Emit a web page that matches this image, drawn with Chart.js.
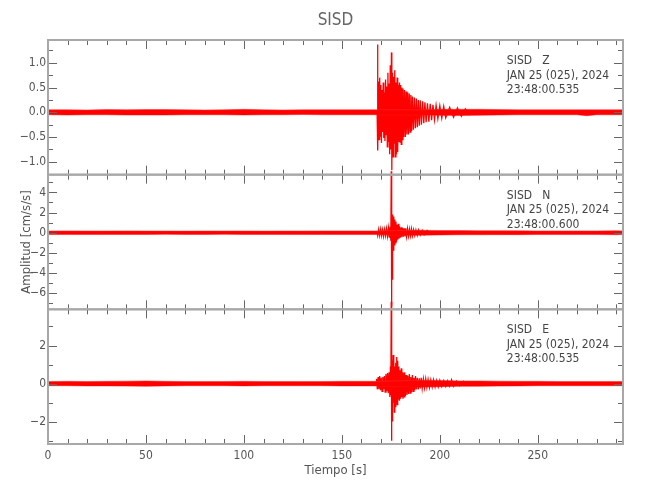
<!DOCTYPE html>
<html>
<head>
<meta charset="utf-8">
<title>SISD</title>
<script src="https://cdn.jsdelivr.net/npm/chart.js@4.4.1/dist/chart.umd.min.js"></script>
<style>
  html, body { margin: 0; padding: 0; background: #fff; }
</style>
</head>
<body>
<canvas id="chart" width="650" height="500"></canvas>
<script>
// Station SISD, three components (Z, N, E)
const station = 'SISD';
const components = ['Z', 'N', 'E'];
const dateLabel = 'JAN 25 (025), 2024';
const startTimes = ['23:48:00.535', '23:48:00.600', '23:48:00.535'];
const timeTicks = [0, 50, 100, 150, 200, 250];
const timeMax = 293.5;

// background noise envelope (upper / lower edge of the trace), seconds
const noiseT = [0, 10, 20, 30, 40, 50, 60, 70, 80, 90, 100, 110, 120, 130, 140, 150,
  160, 170, 180, 190, 200, 210, 220, 230, 240, 250, 260, 270, 275, 280, 290, 293.5];
const zNoiseHi = [0.05, 0.05, 0.045, 0.055, 0.05, 0.055, 0.055, 0.05, 0.045, 0.05, 0.06, 0.05, 0.045, 0.05, 0.05, 0.05,
  0.05, 0.05, 0.05, 0.05, 0.06, 0.06, 0.06, 0.055, 0.05, 0.05, 0.05, 0.05, 0.05, 0.05, 0.05, 0.05];
const zNoiseLo = [-0.05, -0.055, -0.05, -0.05, -0.055, -0.055, -0.055, -0.05, -0.05, -0.05, -0.055, -0.05, -0.05, -0.045, -0.05, -0.05,
  -0.05, -0.05, -0.05, -0.05, -0.06, -0.065, -0.06, -0.055, -0.05, -0.05, -0.05, -0.05, -0.07, -0.05, -0.05, -0.05];
const nNoiseHi = [0.17, 0.18, 0.17, 0.17, 0.18, 0.17, 0.17, 0.16, 0.17, 0.17, 0.17, 0.16, 0.17, 0.17, 0.18, 0.18,
  0.18, 0.18, 0.22, 0.24, 0.22, 0.22, 0.2, 0.2, 0.19, 0.18, 0.18, 0.18, 0.18, 0.18, 0.2, 0.18];
const nNoiseLo = [-0.17, -0.17, -0.18, -0.17, -0.17, -0.17, -0.16, -0.17, -0.17, -0.16, -0.17, -0.17, -0.17, -0.18, -0.17, -0.18,
  -0.18, -0.18, -0.22, -0.24, -0.22, -0.2, -0.2, -0.19, -0.19, -0.18, -0.18, -0.18, -0.18, -0.18, -0.2, -0.18];
const eNoiseHi = [0.11, 0.12, 0.11, 0.12, 0.13, 0.14, 0.12, 0.11, 0.11, 0.11, 0.12, 0.11, 0.11, 0.11, 0.11, 0.12,
  0.12, 0.12, 0.15, 0.18, 0.16, 0.14, 0.14, 0.13, 0.12, 0.12, 0.11, 0.11, 0.11, 0.11, 0.11, 0.11];
const eNoiseLo = [-0.11, -0.11, -0.12, -0.12, -0.13, -0.14, -0.12, -0.11, -0.11, -0.11, -0.12, -0.11, -0.11, -0.11, -0.11, -0.12,
  -0.12, -0.12, -0.15, -0.18, -0.16, -0.14, -0.14, -0.13, -0.12, -0.11, -0.11, -0.11, -0.11, -0.11, -0.11, -0.11];

// event wiggles (alternating peaks), Z component
const zEventT = [
  167.8, 168.0, 168.2, 168.4, 168.7, 169.0, 169.3, 169.6, 169.9, 170.2,
  170.5, 170.8, 171.1, 171.4, 171.7, 172.0, 172.3, 172.6, 172.9, 173.2,
  173.5, 173.8, 174.1, 174.4, 174.7, 175.0, 175.3, 175.5, 175.8, 176.1,
  176.4, 176.7, 177.0, 177.3, 177.6, 177.9, 178.2, 178.5, 178.8, 179.1,
  179.4, 179.7, 180.0, 180.3, 180.6, 180.9, 181.2, 181.6, 182.0, 182.4,
  182.8, 183.2, 183.6, 184.0, 184.4, 184.8, 185.2, 185.6, 186.0, 186.5,
  187.0, 187.5, 188.0, 188.5, 189.0, 189.5, 190.0, 190.6, 191.2, 191.8,
  192.4, 193.0, 193.7, 194.4, 195.1, 195.8, 196.5, 197.3, 198.1, 199.0,
  200.0, 201.0, 202.0, 203.0, 205.0, 207.0, 209.0, 211.0, 213.0, 215.0];
const zEventV = [
  0.04, -0.05, 1.37, -0.77, 0.62, -0.55, 0.70, -0.48, 0.55, -0.62,
  0.45, -0.40, 0.60, -0.52, 0.40, -0.58, 0.66, -0.45, 0.52, -0.70,
  0.80, -0.60, 0.58, -0.85, 0.95, -0.75, 1.21, -1.17, 0.80, -0.90,
  0.72, -0.62, 0.85, -0.90, 0.60, -0.85, 0.70, -0.80, 0.55, -0.60,
  0.60, -0.60, 0.55, -0.65, 0.50, -0.55, 0.48, -0.50, 0.45, -0.50,
  0.42, -0.45, 0.40, -0.45, 0.38, -0.40, 0.35, -0.38, 0.32, -0.35,
  0.30, -0.32, 0.28, -0.30, 0.25, -0.27, 0.24, -0.25, 0.22, -0.22,
  0.20, -0.20, 0.18, -0.19, 0.17, -0.16, 0.15, -0.15, 0.14, -0.13,
  0.13, -0.12, 0.12, -0.11, 0.10, -0.10, 0.09, -0.08, 0.07, -0.06];

// N component
const nEventT = [
  167.8, 168.3, 168.8, 169.3, 169.8, 170.3, 170.8, 171.3, 171.8, 172.3,
  172.8, 173.3, 173.8, 174.2, 174.6, 175.0, 175.2, 175.35, 175.5, 175.65,
  175.8, 176.0, 176.2, 176.4, 176.6, 176.8, 177.0, 177.3, 177.6, 177.9,
  178.2, 178.5, 178.8, 179.1, 179.4, 179.8, 180.2, 180.6, 181.0, 181.4,
  181.8, 182.2, 182.6, 183.0, 183.5, 184.0, 184.5, 185.0, 185.5, 186.0,
  186.6, 187.2, 187.8, 188.5, 189.2, 190.0, 191.0, 192.0, 193.5, 195.0];
const nEventV = [
  0.15, -0.30, 0.32, -0.28, 0.35, -0.30, 0.30, -0.35, 0.33, -0.30,
  0.40, -0.35, 0.45, -0.50, 0.60, -0.80, 6.10, -7.30, 2.50, -4.60,
  1.80, -2.20, 1.60, -1.80, 1.40, -1.20, 1.30, -1.00, 1.10, -0.90,
  0.80, -0.70, 0.90, -0.60, 0.65, -0.50, 0.55, -0.45, 0.50, -0.40,
  0.45, -0.38, 0.45, -0.35, 0.40, -0.32, 0.35, -0.30, 0.38, -0.30,
  0.30, -0.28, 0.28, -0.26, 0.27, -0.24, 0.24, -0.22, 0.22, -0.20];

// E component
const eEventT = [
  167.7, 168.1, 168.5, 168.9, 169.3, 169.7, 170.1, 170.5, 170.9, 171.3,
  171.7, 172.1, 172.5, 172.9, 173.3, 173.7, 174.1, 174.5, 174.8, 175.0,
  175.2, 175.35, 175.5, 175.65, 175.8, 176.0, 176.2, 176.4, 176.6, 176.8,
  177.0, 177.2, 177.5, 177.8, 178.0, 178.2, 178.5, 178.8, 179.1, 179.4,
  179.7, 180.0, 180.3, 180.6, 180.9, 181.2, 181.5, 181.8, 182.1, 182.4,
  182.8, 183.2, 183.6, 184.0, 184.4, 184.8, 185.2, 185.6, 186.0, 186.4,
  186.8, 187.2, 187.6, 188.0, 188.5, 189.0, 189.5, 190.0, 190.5, 191.0,
  191.6, 192.2, 192.8, 193.4, 194.0, 194.7, 195.4, 196.1, 196.8, 197.6,
  198.4, 199.2, 200.0, 201.0, 202.0, 203.0, 204.0, 205.0, 206.0, 207.0,
  208.5, 210.0, 212.0, 214.0];
const eEventV = [
  0.25, -0.30, 0.35, -0.30, 0.40, -0.35, 0.30, -0.40, 0.35, -0.30,
  0.40, -0.45, 0.50, -0.40, 0.55, -0.50, 0.60, -0.70, 0.90, -0.60,
  4.30, -3.00, 1.70, -1.95, 1.20, -1.30, 1.50, -1.00, 1.10, -1.50,
  0.90, -1.20, 1.10, -0.90, 1.40, -1.10, 1.20, -0.80, 0.90, -0.90,
  0.70, -0.80, 0.80, -0.70, 0.60, -0.80, 0.55, -0.70, 0.60, -0.65,
  0.45, -0.60, 0.40, -0.55, 0.50, -0.50, 0.35, -0.45, 0.45, -0.40,
  0.30, -0.35, 0.40, -0.30, 0.30, -0.30, 0.28, -0.25, 0.30, -0.25,
  0.25, -0.22, 0.25, -0.20, 0.22, -0.20, 0.20, -0.18, 0.20, -0.18,
  0.17, -0.17, 0.18, -0.16, 0.16, -0.15, 0.15, -0.14, 0.20, -0.14,
  0.13, -0.12, 0.12, -0.11];

const FONT = "'DejaVu Sans Condensed', 'DejaVu Sans', sans-serif";
const TEXT = '#555';

function pts(t, v) {
  return t.map((x, i) => ({ x: x, y: v[i] }));
}

function fmt(v, digits) {
  return (v < 0 ? '\u2212' : '') + Math.abs(v).toFixed(digits);
}

function band(hi, lo, axis) {
  const common = { yAxisID: axis, pointRadius: 0, borderWidth: 1, borderColor: 'rgba(255,40,40,0.55)', tension: 0 };
  return [
    Object.assign({ data: pts(noiseT, hi), fill: '+1', backgroundColor: '#ff0000' }, common),
    Object.assign({ data: pts(noiseT, lo), fill: false }, common)
  ];
}

function wiggle(t, v, axis) {
  return { data: pts(t, v), yAxisID: axis, pointRadius: 0, borderWidth: 1.3, borderColor: '#ff0000',
    fill: false, tension: 0, clip: 10 };
}

function yAxis(min, max, step, digits, extra) {
  return Object.assign({
    type: 'linear', position: 'left', stack: 'panels', stackWeight: 1,
    min: min, max: max,
    grid: { display: false, drawTicks: false },
    border: { display: false },
    ticks: { stepSize: step, includeBounds: false, autoSkip: false, padding: 2, color: TEXT,
      font: { family: FONT, size: 12 }, callback: v => fmt(v, digits) },
    afterFit: s => { s.width = 48; }
  }, extra || {});
}

// minor tick spacing per panel
const minorStep = { yZ: 0.25, yN: 1, yE: 1 };

const frames = {
  id: 'frames',
  afterDatasetsDraw(chart) {
    const ctx = chart.ctx;
    const xs = chart.scales.x;
    const { left, right } = chart.chartArea;
    ctx.save();
    ['yZ', 'yN', 'yE'].forEach((id, k) => {
      const ys = chart.scales[id];
      const top = ys.top, bottom = ys.bottom;
      // inward ticks
      ctx.strokeStyle = '#666';
      ctx.lineWidth = 1;
      ctx.beginPath();
      for (let t = 0; t <= xs.max; t += 10) {
        const px = Math.round(xs.getPixelForValue(t)) + 0.5;
        const len = t % 50 === 0 ? 9 : 5;
        ctx.moveTo(px, top); ctx.lineTo(px, top + len);
        ctx.moveTo(px, bottom); ctx.lineTo(px, bottom - len);
      }
      const step = minorStep[id];
      const major = ys.ticks.map(tk => tk.value);
      for (let v = Math.ceil(ys.min / step) * step; v <= ys.max; v += step) {
        const py = Math.round(ys.getPixelForValue(v)) + 0.5;
        const isMajor = major.some(m => Math.abs(m - v) < 1e-6);
        const len = isMajor ? 9 : 5;
        ctx.moveTo(left, py); ctx.lineTo(left + len, py);
        ctx.moveTo(right, py); ctx.lineTo(right - len, py);
      }
      ctx.stroke();
      // frame
      ctx.strokeStyle = '#a8a8a8';
      ctx.lineWidth = 2;
      ctx.strokeRect(left, top, right - left, bottom - top);
      // labels in the upper right
      ctx.fillStyle = '#444';
      ctx.font = '12px ' + FONT;
      ctx.textAlign = 'left';
      ctx.textBaseline = 'middle';
      const tx = left + 0.798 * (right - left);
      ctx.fillText(station + '   ' + components[k], tx, top + 21);
      ctx.fillText(dateLabel, tx, top + 35.5);
      ctx.fillText(startTimes[k], tx, top + 50);
    });
    ctx.restore();
  }
};

const chart = new Chart(document.getElementById('chart').getContext('2d'), {
  type: 'line',
  data: {
    datasets: [
      ...band(zNoiseHi, zNoiseLo, 'yZ'),
      ...band(nNoiseHi, nNoiseLo, 'yN'),
      ...band(eNoiseHi, eNoiseLo, 'yE'),
      wiggle(zEventT, zEventV, 'yZ'),
      wiggle(nEventT, nEventV, 'yN'),
      wiggle(eEventT, eEventV, 'yE')
    ]
  },
  options: {
    responsive: false,
    animation: false,
    events: [],
    layout: { padding: { left: 0, right: 27, top: 0, bottom: 0 } },
    plugins: {
      legend: { display: false },
      tooltip: { enabled: false },
      title: {
        display: true, text: station, fullSize: false, color: '#666',
        font: { family: FONT, size: 17, weight: 'normal' },
        padding: { top: 10, bottom: 9.6 }
      }
    },
    scales: {
      x: {
        type: 'linear', position: 'bottom', min: 0, max: timeMax,
        grid: { display: false, drawTicks: false },
        border: { display: false },
        afterBuildTicks: s => { s.ticks = timeTicks.map(v => ({ value: v })); },
        ticks: { autoSkip: false, maxRotation: 0, padding: 5, color: TEXT,
          font: { family: FONT, size: 12 }, callback: v => String(v) },
        title: { display: true, text: 'Tiempo [s]', color: TEXT,
          font: { family: FONT, size: 13 }, padding: { top: 0, bottom: 22 } },
        afterFit: s => { s.height = 56; }
      },
      yE: yAxis(-3.17, 3.9, 2, 0),
      yN: yAxis(-7.6, 5.76, 2, 0, {
        title: { display: true, text: 'Amplitud [cm/s/s]', color: TEXT,
          font: { family: FONT, size: 13 }, padding: { top: 19, bottom: 0 } }
      }),
      yZ: yAxis(-1.26, 1.46, 0.5, 1)
    }
  },
  plugins: [frames]
});
</script>
</body>
</html>
